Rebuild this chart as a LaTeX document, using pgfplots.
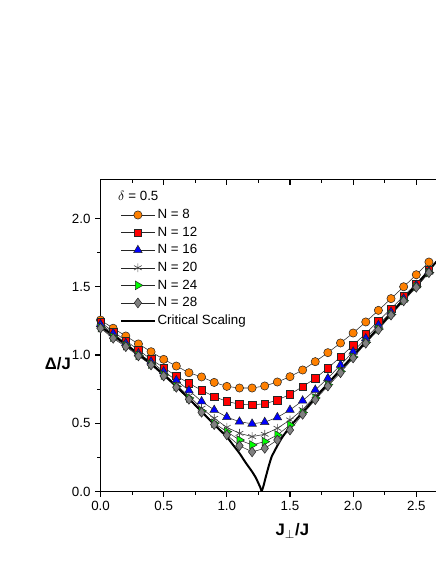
\documentclass[border=0pt]{standalone}
\usepackage{fontspec}
\setmainfont{Liberation Sans}
\usepackage{pgfplots}
\pgfplotsset{compat=1.18}

\definecolor{corange}{RGB}{255,128,0}
\definecolor{cred}{RGB}{255,0,0}
\definecolor{cblue}{RGB}{0,0,255}
\definecolor{cgreen}{RGB}{0,255,0}
\definecolor{cgray}{RGB}{128,128,128}

\pgfplotsset{
  series/.style={black!85, line width=0.4pt, mark options={solid, draw=black, line width=0.4pt}},
}

\begin{document}
\begin{tikzpicture}
\useasboundingbox (-75.4pt,-54.4pt) rectangle (251.6pt,368.6pt);
\begin{axis}[
  scale only axis,
  width=251.6pt, height=234pt,
  xmin=0, xmax=2.656, ymin=0, ymax=2.286,
  axis x line*=bottom, axis y line*=left,
  axis line style={line width=1pt},
  xtick={0,0.5,...,2.5}, ytick={0,0.5,...,2.0},
  minor x tick num=1, minor y tick num=1,
  tick align=outside,
  major tick length=4pt, minor tick length=2.5pt,
  tick style={black, line width=0.8pt},
  tick label style={font=\fontsize{10}{12}\selectfont},
  /pgf/number format/assume math mode=true,
  /pgf/number format/.cd, fixed, fixed zerofill, precision=1, /pgfplots/.cd,
  xlabel={\textbf{J}$_{\perp}$\textbf{/J}},
  ylabel={\textbf{Δ/J}},
  label style={font=\fontsize{12.5}{14}\selectfont},
  xlabel style={at={(axis description cs:0.572,-0.1265)}, anchor=center},
  ylabel style={rotate=-90, at={(axis description cs:-0.127,0.411)}, anchor=center},
  legend style={draw=none, fill=none, at={(axis description cs:0.046,0.918)}, anchor=north west,
    font=\fontsize{10}{12}\selectfont, row sep=2.7pt,
    nodes={inner xsep=1.5pt, inner ysep=0.5pt, text height=7.5pt, text depth=2pt}},
  legend cell align=left,
  legend image code/.code={\draw[mark repeat=2,mark phase=2] plot coordinates {(0pt,0pt) (12.5pt,0pt) (25pt,0pt)};},
]

\addplot[series, mark=*, mark size=3.1pt, mark options={fill=corange}] coordinates {
(0,1.256)(0.1,1.196)(0.2,1.139)(0.3,1.081)(0.4,1.024)(0.5,0.968)(0.6,0.919)(0.7,0.870)(0.8,0.839)
(0.9,0.799)(1.0,0.770)(1.1,0.758)(1.2,0.758)(1.3,0.773)(1.4,0.802)(1.5,0.841)(1.6,0.890)(1.7,0.951)
(1.8,1.017)(1.9,1.088)(2.0,1.161)(2.1,1.242)(2.2,1.327)(2.3,1.413)(2.4,1.500)(2.5,1.588)(2.6,1.681)
};
\addlegendentry{N = 8}

\addplot[series, mark=square*, mark size=2.8pt, mark options={fill=cred}] coordinates {
(0,1.240)(0.1,1.171)(0.2,1.105)(0.3,1.037)(0.4,0.968)(0.5,0.907)(0.6,0.846)(0.7,0.793)(0.8,0.741)
(0.9,0.695)(1.0,0.660)(1.1,0.639)(1.2,0.634)(1.3,0.643)(1.4,0.669)(1.5,0.712)(1.6,0.768)(1.7,0.829)
(1.8,0.904)(1.9,0.986)(2.0,1.072)(2.1,1.157)(2.2,1.250)(2.3,1.340)(2.4,1.432)(2.5,1.522)(2.6,1.623)
};
\addlegendentry{N = 12}

\addplot[series, mark=triangle*, mark size=3.7pt, mark options={fill=cblue}] coordinates {
(0,1.225)(0.1,1.159)(0.2,1.086)(0.3,1.012)(0.4,0.951)(0.5,0.880)(0.6,0.815)(0.7,0.740)(0.8,0.660)
(0.9,0.597)(1.0,0.545)(1.1,0.511)(1.2,0.496)(1.3,0.508)(1.4,0.543)(1.5,0.597)(1.6,0.665)(1.7,0.744)
(1.8,0.829)(1.9,0.927)(2.0,1.024)(2.1,1.122)(2.2,1.220)(2.3,1.315)(2.4,1.413)(2.5,1.512)(2.6,1.612)
};
\addlegendentry{N = 16}

\addplot[series, mark=asterisk, mark size=3.3pt, mark options={draw=black!70, line width=0.5pt}] coordinates {
(0,1.210)(0.1,1.140)(0.2,1.075)(0.3,1.003)(0.4,0.938)(0.5,0.862)(0.6,0.780)(0.7,0.700)(0.8,0.610)
(0.9,0.536)(1.0,0.470)(1.1,0.426)(1.2,0.402)(1.3,0.419)(1.4,0.463)(1.5,0.524)(1.6,0.600)(1.7,0.700)
(1.8,0.795)(1.9,0.895)(2.0,0.995)(2.1,1.100)(2.2,1.198)(2.3,1.300)(2.4,1.400)(2.5,1.503)(2.6,1.606)
};
\addlegendentry{N = 20}

\addplot[series, mark=triangle*, mark size=3.7pt, mark options={fill=cgreen, rotate=-90}] coordinates {
(0,1.200)(0.1,1.130)(0.2,1.068)(0.3,0.997)(0.4,0.932)(0.5,0.853)(0.6,0.770)(0.7,0.685)(0.8,0.590)
(0.9,0.500)(1.0,0.438)(1.1,0.377)(1.2,0.341)(1.3,0.365)(1.4,0.414)(1.5,0.487)(1.6,0.578)(1.7,0.685)
(1.8,0.782)(1.9,0.880)(2.0,0.985)(2.1,1.092)(2.2,1.190)(2.3,1.296)(2.4,1.398)(2.5,1.500)(2.6,1.604)
};
\addlegendentry{N = 24}

\addplot[series, mark=diamond*, mark size=3.7pt, mark options={fill=cgray}] coordinates {
(0,1.196)(0.1,1.122)(0.2,1.061)(0.3,0.993)(0.4,0.927)(0.5,0.846)(0.6,0.763)(0.7,0.675)(0.8,0.580)
(0.9,0.490)(1.0,0.414)(1.1,0.335)(1.2,0.290)(1.3,0.316)(1.4,0.377)(1.5,0.450)(1.6,0.565)(1.7,0.672)
(1.8,0.772)(1.9,0.870)(2.0,0.978)(2.1,1.086)(2.2,1.185)(2.3,1.292)(2.4,1.396)(2.5,1.496)(2.6,1.603)
};
\addlegendentry{N = 28}

\addplot[black, line width=1.5pt, no marks, smooth, tension=0.3] coordinates {
(0,1.210)(0.1,1.145)(0.2,1.078)(0.3,1.008)(0.4,0.935)(0.5,0.858)(0.6,0.770)(0.7,0.680)(0.8,0.585)
(0.9,0.490)(1.0,0.400)(1.05,0.340)(1.1,0.280)(1.15,0.210)(1.2,0.145)(1.23,0.100)(1.25,0.060)
(1.265,0.030)(1.276,0.000)};
\addlegendentry{Critical Scaling}
\addplot[black, line width=1.5pt, no marks, smooth, tension=0.3, forget plot] coordinates {
(1.276,0.000)(1.29,0.040)(1.302,0.084)(1.33,0.180)(1.355,0.255)(1.4,0.335)(1.434,0.390)(1.5,0.475)
(1.6,0.580)(1.7,0.685)(1.8,0.790)(1.9,0.893)(2.0,0.995)(2.2,1.200)(2.4,1.410)(2.6,1.620)(2.66,1.685)};

\node[anchor=west, font=\fontsize{10}{12}\selectfont, inner sep=0pt] at (axis description cs:0.052,0.947) {$\delta$ = 0.5};
\end{axis}

\begin{axis}[
  scale only axis,
  width=251.6pt, height=234pt,
  xmin=0, xmax=2.656, ymin=0, ymax=2.286,
  axis x line*=top, axis y line=none,
  axis line style={line width=1pt},
  xtick={0,0.5,...,2.5}, xticklabels={},
  minor x tick num=1,
  tick align=inside,
  major tick length=4pt, minor tick length=2.5pt,
  tick style={black, line width=0.8pt},
]
\end{axis}
\end{tikzpicture}
\end{document}
